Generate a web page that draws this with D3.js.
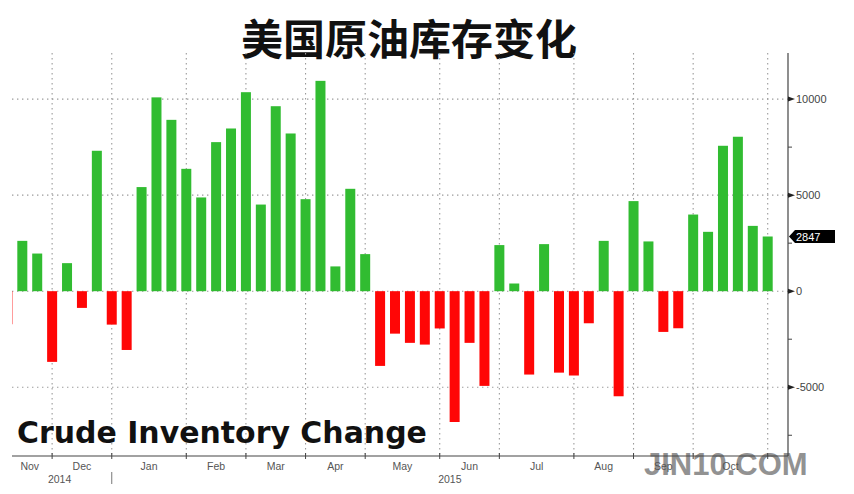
<!DOCTYPE html>
<html>
<head>
<meta charset="utf-8">
<script src="https://cdn.jsdelivr.net/npm/d3@7"></script>
<style>
  html, body { margin: 0; padding: 0; background: #fff; }
  svg { display: block; }
</style>
</head>
<body>
<svg id="chart" width="854" height="494"></svg>
<script>
// ---- data ----
const weeks = [
  "2014-11-07","2014-11-14","2014-11-21","2014-11-28","2014-12-05","2014-12-12","2014-12-19","2014-12-26",
  "2015-01-02","2015-01-09","2015-01-16","2015-01-23","2015-01-30","2015-02-06","2015-02-13","2015-02-20",
  "2015-02-27","2015-03-06","2015-03-13","2015-03-20","2015-03-27","2015-04-03","2015-04-10","2015-04-17",
  "2015-04-24","2015-05-01","2015-05-08","2015-05-15","2015-05-22","2015-05-29","2015-06-05","2015-06-12",
  "2015-06-19","2015-06-26","2015-07-03","2015-07-10","2015-07-17","2015-07-24","2015-07-31","2015-08-07",
  "2015-08-14","2015-08-21","2015-08-28","2015-09-04","2015-09-11","2015-09-18","2015-09-25","2015-10-02",
  "2015-10-09","2015-10-16","2015-10-23","2015-10-30"
];
const changes = [
  -1720, 2620, 1960, -3680, 1460, -870, 7310, -1740,
  -3060, 5420, 10090, 8920, 6370, 4880, 7760, 8470,
  10360, 4510, 9630, 8210, 4790, 10950, 1290, 5330,
  1930, -3890, -2210, -2690, -2780, -1940, -6810, -2690,
  -4930, 2400, 400, -4340, 2450, -4240, -4390, -1670,
  2620, -5470, 4690, 2590, -2120, -1930, 3990, 3090,
  7570, 8040, 3400, 2847
];
const monthTickWeeks = ["2014-11-28","2014-12-26","2015-01-30","2015-02-27","2015-03-27","2015-04-24",
  "2015-05-29","2015-06-26","2015-07-31","2015-08-28","2015-09-25","2015-10-30"];
const monthLabels = ["Nov","Dec","Jan","Feb","Mar","Apr","May","Jun","Jul","Aug","Sep","Oct"];
const yearLabels = ["2014","2015"];
const yMajorTicks = [-5000, 0, 5000, 10000];
const yMinorTicks = [-7500, -2500, 2500, 7500];
const lastValueLabel = "2847";
const titleText = "美国原油库存变化";
const subtitleText = "Crude Inventory Change";
const watermarkText = "JIN10.COM";

// ---- layout ----
const plot = { left: 12, right: 788, top: 53, bottom: 456 };
const svg = d3.select("#chart");

const x = d3.scalePoint().domain(weeks).range([7.4, 767.7]);
const y = d3.scaleLinear().domain([-8580, 12400]).range([plot.bottom, plot.top]);
const barW = 10;

svg.append("defs").append("clipPath").attr("id", "plotclip")
  .append("rect").attr("x", plot.left).attr("y", plot.top)
  .attr("width", plot.right - plot.left).attr("height", plot.bottom - plot.top);

// title
svg.append("text")
  .attr("x", 409).attr("y", 55)
  .attr("text-anchor", "middle")
  .style("font-family", "'Noto Sans CJK SC', sans-serif")
  .style("font-weight", 700)
  .style("font-size", "42px")
  .attr("fill", "#111")
  .text(titleText);

// grid
const grid = svg.append("g");
const dot = { stroke: "#9a9a9a", dash: "1.4,3.6", w: 1.1 };
grid.selectAll("line.h").data(yMajorTicks).join("line")
  .attr("x1", plot.left).attr("x2", plot.right)
  .attr("y1", d => y(d)).attr("y2", d => y(d))
  .attr("stroke", dot.stroke).attr("stroke-width", dot.w).attr("stroke-dasharray", dot.dash);
grid.selectAll("line.v").data(monthTickWeeks).join("line")
  .attr("x1", d => x(d)).attr("x2", d => x(d))
  .attr("y1", plot.top).attr("y2", plot.bottom)
  .attr("stroke", dot.stroke).attr("stroke-width", dot.w).attr("stroke-dasharray", dot.dash);

// bars
svg.append("g").attr("clip-path", "url(#plotclip)")
  .selectAll("rect").data(weeks.map((w, i) => ({ w, v: changes[i] }))).join("rect")
  .attr("x", d => x(d.w) - barW / 2)
  .attr("width", barW)
  .attr("y", d => y(Math.max(0, d.v)))
  .attr("height", d => Math.abs(y(d.v) - y(0)))
  .attr("fill", d => d.v >= 0 ? "#31bc31" : "#ff0606");

// subtitle
const sub = svg.append("text")
  .attr("x", 17).attr("y", 443)
  .style("font-family", "'DejaVu Sans', Verdana, sans-serif")
  .style("font-weight", 700)
  .style("font-size", "26px")
  .attr("fill", "#111")
  .text(subtitleText);
const sl = sub.node().getComputedTextLength();
sub.style("font-size", (26 * 410 / sl).toFixed(2) + "px");

// watermark
svg.append("text")
  .attr("x", 644).attr("y", 475)
  .style("font-family", "'Liberation Sans', Arial, sans-serif")
  .style("font-weight", 700)
  .style("font-size", "31px")
  .attr("fill", "#7f7f7f").attr("opacity", 0.85)
  .text(watermarkText);

// bottom axis
const axisColor = "#444";
svg.append("line")
  .attr("x1", plot.left).attr("x2", plot.right)
  .attr("y1", plot.bottom).attr("y2", plot.bottom)
  .attr("stroke", axisColor).attr("stroke-width", 1.2);
svg.append("g").selectAll("line").data(monthTickWeeks).join("line")
  .attr("x1", d => x(d)).attr("x2", d => x(d))
  .attr("y1", plot.bottom - 3).attr("y2", plot.bottom + 3)
  .attr("stroke", axisColor).attr("stroke-width", 1);

const tickXs = monthTickWeeks.map(d => x(d));
const labelXs = monthLabels.map((m, i) => i === 0 ? (x(weeks[0]) + tickXs[0]) / 2 : (tickXs[i - 1] + tickXs[i]) / 2);
const lab = { family: "'Liberation Sans', Arial, sans-serif", size: "10.5px", color: "#555" };
svg.append("g").selectAll("text").data(monthLabels).join("text")
  .attr("x", (d, i) => labelXs[i]).attr("y", 470)
  .attr("text-anchor", "middle")
  .style("font-family", lab.family).style("font-size", lab.size)
  .attr("fill", lab.color)
  .text(d => d);

const janX = x("2014-12-26");
const yearXs = [(x(weeks[0]) + janX) / 2, (janX + plot.right) / 2];
svg.append("g").selectAll("text").data(yearLabels).join("text")
  .attr("x", (d, i) => yearXs[i]).attr("y", 483)
  .attr("text-anchor", "middle")
  .style("font-family", lab.family).style("font-size", lab.size)
  .attr("fill", lab.color)
  .text(d => d);
svg.append("line")
  .attr("x1", janX).attr("x2", janX).attr("y1", 472).attr("y2", 484)
  .attr("stroke", "#777").attr("stroke-width", 1);

// right axis
svg.append("line")
  .attr("x1", plot.right).attr("x2", plot.right)
  .attr("y1", plot.top).attr("y2", plot.bottom)
  .attr("stroke", axisColor).attr("stroke-width", 1.2);
svg.append("g").selectAll("path").data(yMajorTicks).join("path")
  .attr("d", d => `M${plot.right},${y(d) - 2.5}L${plot.right + 7},${y(d)}L${plot.right},${y(d) + 2.5}Z`)
  .attr("fill", "#222");
svg.append("g").selectAll("line").data(yMinorTicks).join("line")
  .attr("x1", plot.right).attr("x2", plot.right + 4)
  .attr("y1", d => y(d)).attr("y2", d => y(d))
  .attr("stroke", axisColor).attr("stroke-width", 1);
svg.append("g").selectAll("text").data(yMajorTicks).join("text")
  .attr("x", plot.right + 8).attr("y", d => y(d) + 4)
  .style("font-family", lab.family).style("font-size", "11px")
  .attr("fill", "#444")
  .text(d => d);

// last value marker
const lv = changes[changes.length - 1];
const ly = y(lv);
svg.append("path")
  .attr("d", `M${plot.right + 1},${ly}L${plot.right + 7},${ly - 6.5}L${plot.right + 47},${ly - 6.5}L${plot.right + 47},${ly + 6.5}L${plot.right + 7},${ly + 6.5}Z`)
  .attr("fill", "#000");
svg.append("text")
  .attr("x", plot.right + 8).attr("y", ly + 4)
  .style("font-family", lab.family).style("font-size", "11px")
  .attr("fill", "#fff")
  .text(lastValueLabel);
</script>
</body>
</html>
